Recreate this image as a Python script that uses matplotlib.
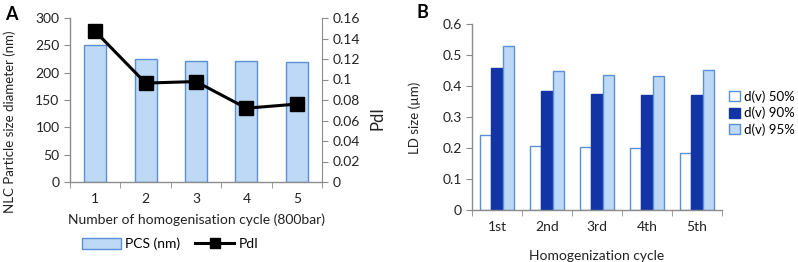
import matplotlib
matplotlib.use("Agg")
import matplotlib.pyplot as plt
import numpy as np
from matplotlib.lines import Line2D
from matplotlib.patches import Patch

plt.rcParams["font.family"] = ["Lato", "DejaVu Sans"]

# ── data ──────────────────────────────────────────────
cycles_a = ["1", "2", "3", "4", "5"]
pcs_nm = [251, 225, 222, 221, 220]
pdi = [0.147, 0.0965, 0.098, 0.072, 0.076]

cycles_b = ["1st", "2nd", "3rd", "4th", "5th"]
dv50 = [0.243, 0.206, 0.202, 0.201, 0.183]
dv90 = [0.457, 0.384, 0.373, 0.370, 0.371]
dv95 = [0.530, 0.447, 0.435, 0.431, 0.453]

# ── colours ───────────────────────────────────────────
LIGHT = "#BDD9F5"
EDGE = "#5B8FD6"
DARK = "#1234A5"
SPINE = "#8C8C8C"
TEXT = "#222222"
FS = 10

fig = plt.figure(figsize=(7.98, 2.62), dpi=100)


def style_axis(ax):
    for s in ["top", "right"]:
        ax.spines[s].set_visible(False)
    for s in ["left", "bottom"]:
        ax.spines[s].set_color(SPINE)
        ax.spines[s].set_linewidth(1.0)
    ax.tick_params(axis="y", colors=SPINE, labelcolor=TEXT, length=4, labelsize=FS)
    ax.tick_params(axis="x", which="major", length=0, labelsize=FS, labelcolor=TEXT, pad=8)
    ax.tick_params(axis="x", which="minor", length=4, color=SPINE)


# ── panel A ───────────────────────────────────────────
axA = fig.add_axes([70 / 798, 1 - 182 / 262, 252 / 798, 164 / 262])
x = np.arange(1, len(cycles_a) + 1)
axA.bar(x, pcs_nm, width=0.44, color=LIGHT, edgecolor=EDGE, linewidth=1.0, zorder=2)
axA.set_xlim(0.5, 5.5)
axA.set_ylim(0, 300)
axA.set_yticks(np.arange(0, 301, 50))
axA.set_xticks(x)
axA.set_xticklabels(cycles_a)
axA.set_xticks(np.arange(0.5, 5.6, 1), minor=True)
style_axis(axA)
axA.set_ylabel("NLC Particle size diameter (nm)", fontsize=9.5, color=TEXT,
               ha="center", va="center")
axA.yaxis.set_label_coords(-0.238, 0.366)
axA.set_xlabel("Number of homogenisation cycle (800bar)", fontsize=FS, color=TEXT, labelpad=6)

axA2 = axA.twinx()
axA2.plot(x, pdi, color="black", linewidth=2.2, marker="s", markersize=10, zorder=3)
axA2.set_ylim(0, 0.16)
axA2.set_yticks(np.arange(0, 0.161, 0.02))
axA2.set_yticklabels(["0", "0.02", "0.04", "0.06", "0.08", "0.1", "0.12", "0.14", "0.16"])
for s in ["top", "left", "bottom"]:
    axA2.spines[s].set_visible(False)
axA2.spines["right"].set_color(SPINE)
axA2.tick_params(axis="y", colors=SPINE, labelcolor=TEXT, length=4, labelsize=FS)
axA2.set_ylabel("PdI", fontsize=12, color=TEXT, ha="center", va="center")
axA2.yaxis.set_label_coords(1.222, 0.39)

handlesA = [Patch(facecolor=LIGHT, edgecolor=EDGE, label="PCS (nm)"),
            Line2D([0], [0], color="black", lw=2.2, marker="s", markersize=7, label="PdI")]
fig.legend(handles=handlesA, loc="center", bbox_to_anchor=(170 / 798, 1 - 244 / 262),
           ncol=2, frameon=False, fontsize=FS, handlelength=2.8, handleheight=0.9,
           columnspacing=1.1, handletextpad=0.3)

fig.text(5 / 798, 1 - 15 / 262, "A", fontsize=13, fontweight="bold", va="center", ha="left")

# ── panel B ───────────────────────────────────────────
axB = fig.add_axes([472 / 798, 1 - 210 / 262, 250 / 798, 186 / 262])
xb = np.arange(len(cycles_b))
w = 0.227
axB.bar(xb - w, dv50, width=w, color="white", edgecolor=EDGE, linewidth=1.0, label="d(v) 50%")
axB.bar(xb, dv90, width=w, color=DARK, edgecolor=DARK, linewidth=1.0, label="d(v) 90%")
axB.bar(xb + w, dv95, width=w, color=LIGHT, edgecolor=EDGE, linewidth=1.0, label="d(v) 95%")
axB.set_xlim(-0.5, 4.5)
axB.set_ylim(0, 0.6)
axB.set_yticks(np.arange(0, 0.61, 0.1))
axB.set_yticklabels(["0", "0.1", "0.2", "0.3", "0.4", "0.5", "0.6"])
axB.set_xticks(xb)
axB.set_xticklabels(cycles_b)
axB.set_xticks(np.arange(-0.5, 4.6, 1), minor=True)
style_axis(axB)
axB.set_ylabel("LD size (\u00b5m)", fontsize=9.5, color=TEXT, ha="center", va="center")
axB.yaxis.set_label_coords(-0.228, 0.495)
axB.set_xlabel("Homogenization cycle", fontsize=FS, color=TEXT, labelpad=12)
fig.legend(*axB.get_legend_handles_labels(), loc="center left",
           bbox_to_anchor=(729 / 798, 1 - 113 / 262), frameon=False, fontsize=9.5,
           borderaxespad=0, borderpad=0, handlelength=0.8, handleheight=0.8,
           handletextpad=0.3, labelspacing=0.3)

fig.text(416 / 798, 1 - 12 / 262, "B", fontsize=13, fontweight="bold", va="center", ha="left")

fig.savefig("out.png", dpi=100, facecolor="white")
